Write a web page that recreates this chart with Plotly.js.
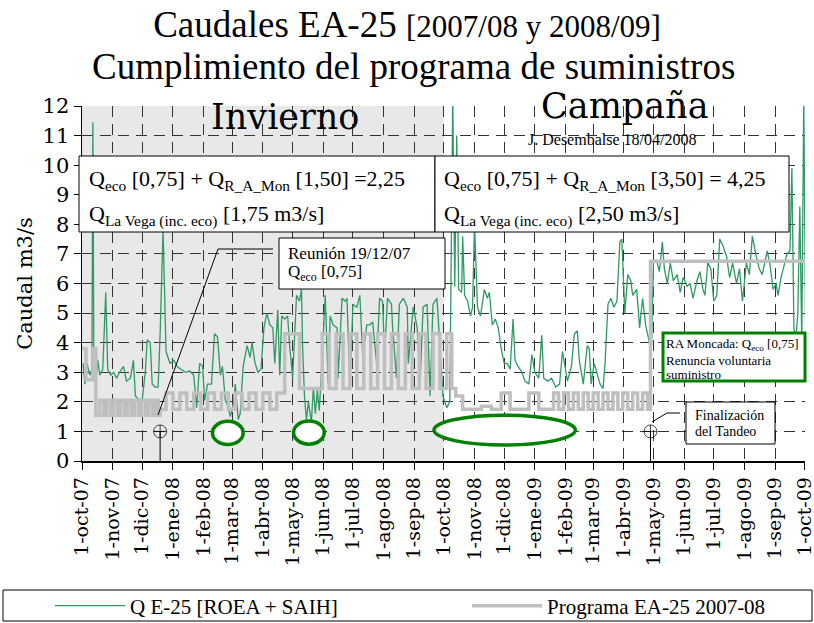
<!DOCTYPE html>
<html>
<head>
<meta charset="utf-8">
<script src="https://cdn.plot.ly/plotly-3.0.1.min.js"></script>
<style>html,body{margin:0;padding:0;background:#fff;}#chart{width:814px;height:623px;}</style>
</head>
<body>
<div id="chart"></div>
<script>
// ---- data (days counted from 1-oct-2007) ----
const startDate = [2007, 9, 1];

// Q E-25 [ROEA + SAIH] : day offset and flow (m3/s)
const qDays = [1,3,5,8,10,11,12,14,16,18,21,24,26,29,32,35,38,42,45,49,52,54,58,61,64,66,69,71,74,77,79,82,85,89,93,96,100,105,109,113,116,119,122,124,127,131,134,137,140,142,145,148,150,153,155,158,160,163,167,170,172,175,178,181,184,187,190,193,195,198,200,202,205,208,210,213,217,220,222,223,225,227,229,232,234,236,238,240,243,246,249,251,254,258,259,263,266,268,271,274,278,281,284,288,291,294,298,301,304,306,309,313,314,318,321,325,329,330,335,339,342,345,349,352,355,359,362,365,369,372,375,377,379,381,384,385,387,390,393,395,397,400,403,407,410,412,415,418,421,424,427,430,433,436,438,441,445,448,452,455,458,462,465,467,471,475,479,483,486,489,491,495,498,501,503,507,511,513,515,518,521,524,527,529,532,535,538,541,544,546,549,552,555,557,561,564,567,570,572,574,576,578,581,584,587,589,592,595,598,602,605,608,612,615,618,622,625,628,630,633,636,639,642,645,648,652,655,658,662,665,668,672,675,678,682,685,688,693,696,699,702,704,707,710,713,716,718,720,722,724,726,728,730,732];
const qValues = [3.3,2.6,3.3,2.9,3.1,11.45,3.2,2.7,3.4,2.9,3.1,5.7,3.1,2.9,3.0,2.8,3.0,3.2,2.7,2.8,3.4,2.2,2.05,2.1,3.0,4.1,4.0,2.6,2.5,2.5,4.3,7.8,3.7,3.3,3.4,3.2,3.1,3.0,3.05,2.9,1.8,3.3,3.2,2.05,2.6,2.6,4.3,4.2,2.9,3.2,2.05,1.8,1.5,1.9,2.6,1.4,1.6,3.2,3.9,3.5,4.0,3.3,3.0,3.1,4.5,5.0,4.6,4.5,3.3,5.1,2.9,4.9,4.8,4.9,3.9,2.8,5.6,5.4,5.8,4.0,2.2,1.4,2.0,1.3,2.5,1.6,2.4,1.7,3.6,5.6,2.6,4.9,4.6,4.5,2.8,5.5,5.4,5.5,2.5,5.3,5.2,5.6,3.5,4.6,4.6,4.7,3.3,5.5,5.4,3.6,5.5,5.3,4.6,2.8,5.3,5.5,5.2,3.3,5.2,4.5,2.7,5.2,5.3,2.2,5.3,5.5,3.9,2.2,1.8,2.0,12.3,5.9,11.0,5.8,5.7,7.6,5.6,5.4,4.9,5.2,8.0,5.2,4.9,5.8,5.5,5.7,4.6,4.8,4.5,3.8,3.3,3.3,3.1,4.8,3.4,3.2,3.0,2.7,2.6,3.6,3.0,2.8,4.25,2.8,2.7,2.8,2.5,2.6,3.7,3.0,2.7,3.2,4.3,4.4,3.4,2.6,3.9,3.8,2.6,3.3,2.9,2.6,2.45,3.3,5.3,5.5,5.2,5.4,7.4,7.5,5.0,6.3,6.1,5.6,5.8,4.5,5.5,4.6,4.3,4.0,3.9,6.7,6.8,6.4,7.4,6.5,6.0,6.7,6.1,6.3,5.7,6.2,5.9,6.0,5.5,6.1,6.4,5.8,5.6,6.7,6.5,5.4,5.6,7.5,7.3,6.9,6.2,6.7,6.0,6.5,5.4,6.7,6.3,7.6,6.9,6.5,6.3,7.1,6.6,5.8,6.0,5.6,6.2,6.6,7.0,7.1,9.9,4.5,4.1,5.0,8.6,4.0,12.3,3.9];

// Programa EA-25 2007-08 : step change days and programmed flow
const progDays = [0,4,11,14,18,22,25,29,32,36,39,43,46,50,53,57,60,64,67,71,74,77,79,85,92,99,106,113,120,127,134,141,148,155,162,169,176,183,190,197,205,220,243,250,257,264,271,278,285,292,299,306,313,320,327,334,341,348,355,362,369,374,378,385,404,414,424,433,452,462,477,482,487,492,497,502,507,512,517,522,527,532,537,542,547,552,557,562,567,572,575,731];
const progValues = [3.8,2.75,3.8,1.55,2.05,1.55,2.05,1.55,2.05,1.55,2.05,1.55,2.05,1.55,2.05,1.55,2.05,1.55,2.05,1.55,2.05,1.55,1.75,2.3,1.75,2.3,1.75,2.3,1.75,2.3,1.75,2.3,1.75,2.3,1.75,2.3,1.75,2.3,1.75,2.3,4.3,2.45,4.3,2.45,4.3,2.45,4.3,2.45,4.3,2.45,4.3,2.45,4.3,2.45,4.3,2.45,4.3,2.45,4.3,2.45,4.3,2.45,2.2,1.75,1.85,1.75,2.3,1.75,2.3,1.75,2.3,1.75,2.3,1.75,2.3,1.75,2.3,1.75,2.3,1.75,2.3,1.75,2.3,1.75,2.3,1.75,2.3,1.75,2.3,1.75,6.75,6.75];

// events (Reunión 19/12/07, Finalización del Tandeo)
const eventDates = ['2007-12-19', '2009-04-28'];
const eventLevel = [1, 1];

// x ticks
const tickDates = ['2007-10-01','2007-11-01','2007-12-01','2008-01-01','2008-02-01','2008-03-01','2008-04-01','2008-05-01','2008-06-01','2008-07-01','2008-08-01','2008-09-01','2008-10-01','2008-11-01','2008-12-01','2009-01-01','2009-02-01','2009-03-01','2009-04-01','2009-05-01','2009-06-01','2009-07-01','2009-08-01','2009-09-01','2009-10-01'];
const tickLabels = ['1-oct-07','1-nov-07','1-dic-07','1-ene-08','1-feb-08','1-mar-08','1-abr-08','1-may-08','1-jun-08','1-jul-08','1-ago-08','1-sep-08','1-oct-08','1-nov-08','1-dic-08','1-ene-09','1-feb-09','1-mar-09','1-abr-09','1-may-09','1-jun-09','1-jul-09','1-ago-09','1-sep-09','1-oct-09'];

// ---- build ----
function dayToDate(d) {
  const t = Date.UTC(startDate[0], startDate[1], startDate[2]) + d * 86400000;
  return new Date(t).toISOString().slice(0, 10);
}
const serif = 'Liberation Serif, Times New Roman, serif';
const wide = 'DejaVu Serif, serif';

const traces = [
  {
    x: qDays.map(dayToDate), y: qValues, type: 'scatter', mode: 'lines',
    name: 'Q E-25 [ROEA + SAIH]', legend: 'legend',
    line: {color: '#2f9a62', width: 1.3}
  },
  {
    x: progDays.map(dayToDate), y: progValues, type: 'scatter', mode: 'lines',
    name: 'Programa EA-25 2007-08', legend: 'legend2',
    line: {color: '#bfbfbf', width: 3.5, shape: 'hv'}
  }
];
eventDates.forEach(function (d, i) {
  traces.push({
    x: [d, d], y: [0, eventLevel[i]], type: 'scatter', mode: 'lines+markers',
    showlegend: false, hoverinfo: 'skip',
    line: {color: '#000', width: 1},
    marker: {symbol: 'circle-cross-open', size: [0, 13], color: '#000', line: {width: 1, color: '#000'}}
  });
});

function px(x) { return (x - 82) / 723; }
function py(y) { return (461 - y) / 355; }

const shapes = [
  // Invierno shading
  {type: 'rect', xref: 'x', yref: 'y', x0: '2007-10-01', x1: '2008-10-01', y0: 0, y1: 12,
   fillcolor: '#e8e8e8', line: {width: 0}, layer: 'below'},
  // ellipses
  {type: 'circle', xref: 'x', yref: 'y', x0: '2008-02-10', x1: '2008-03-12', y0: 0.56, y1: 1.34,
   fillcolor: '#ffffff', line: {color: '#008000', width: 3.5}, layer: 'above'},
  {type: 'circle', xref: 'x', yref: 'y', x0: '2008-05-02', x1: '2008-06-02', y0: 0.57, y1: 1.35,
   fillcolor: '#ffffff', line: {color: '#008000', width: 3.5}, layer: 'above'},
  {type: 'circle', xref: 'x', yref: 'y', x0: '2008-09-21', x1: '2009-02-11', y0: 0.54, y1: 1.55,
   fillcolor: '#ffffff', line: {color: '#008000', width: 3.5}, layer: 'above'},
  // top boxes
  {type: 'rect', xref: 'paper', yref: 'paper', x0: px(79), x1: px(435), y0: py(232), y1: py(156),
   fillcolor: '#fff', line: {color: '#000', width: 1}, layer: 'above'},
  {type: 'rect', xref: 'paper', yref: 'paper', x0: px(435), x1: px(789), y0: py(232), y1: py(156),
   fillcolor: '#fff', line: {color: '#000', width: 1}, layer: 'above'},
  // Reunion box + connector
  {type: 'rect', xref: 'paper', yref: 'paper', x0: px(279), x1: px(445), y0: py(289), y1: py(238),
   fillcolor: '#fff', line: {color: '#000', width: 1}, layer: 'above'},
  {type: 'path', xref: 'paper', yref: 'paper',
   path: 'M' + px(158) + ',' + py(415) + ' L' + px(218) + ',' + py(249) + ' L' + px(273) + ',' + py(249),
   line: {color: '#000', width: 1}, layer: 'above'},
  // RA Moncada box
  {type: 'rect', xref: 'paper', yref: 'paper', x0: px(663), x1: px(805), y0: py(381), y1: py(333),
   fillcolor: '#fff', line: {color: '#008000', width: 3}, layer: 'above'},
  // Finalizacion box + connector
  {type: 'rect', xref: 'paper', yref: 'paper', x0: px(686), x1: px(775), y0: py(444), y1: py(402),
   fillcolor: '#fff', line: {color: '#000', width: 1}, layer: 'above'},
  {type: 'path', xref: 'paper', yref: 'paper',
   path: 'M' + px(652) + ',' + py(422) + ' L' + px(667) + ',' + py(413) + ' L' + px(680) + ',' + py(413),
   line: {color: '#000', width: 1}, layer: 'above'},
  // legend frame
  {type: 'rect', xref: 'paper', yref: 'paper', x0: px(3), x1: px(812), y0: py(621), y1: py(590),
   fillcolor: 'rgba(0,0,0,0)', line: {color: '#000', width: 1}}
];

function ann(text, x, y, size, family, xanchor, color) {
  return {text: text, xref: 'paper', yref: 'paper', x: x, y: y, xanchor: xanchor || 'left',
          yanchor: 'middle', showarrow: false, align: 'left',
          font: {family: family || serif, size: size, color: color || '#000'}};
}
const annotations = [
  ann('Cumplimiento del programa de suministros', px(413), py(67), 37, serif, 'center'),
  ann('Invierno', px(285), py(117), 35, wide, 'center'),
  ann('Campaña', px(625), py(106), 35, wide, 'center'),
  ann('J. Desembalse 18/04/2008', px(612), py(139), 16, serif, 'center'),
  ann('Q<sub>eco</sub> [0,75] + Q<sub>R_A_Mon</sub> [1,50] =2,25', px(87), py(180), 22),
  ann('Q<sub>La Vega (inc. eco)</sub> [1,75 m3/s]', px(87), py(215), 22),
  ann('Q<sub>eco</sub> [0,75] + Q<sub>R_A_Mon</sub> [3,50] = 4,25', px(442), py(180), 22),
  ann('Q<sub>La Vega (inc. eco)</sub> [2,50 m3/s]', px(442), py(215), 22),
  ann('Reunión 19/12/07', px(286), py(253), 17),
  ann('Q<sub>eco</sub> [0,75]', px(286), py(273), 17),
  ann('RA Moncada: Q<sub>eco</sub> [0,75]', px(664), py(344), 13),
  ann('Renuncia voluntaria', px(664), py(360), 13),
  ann('suministro', px(664), py(374), 13),
  ann('Finalización', px(693), py(415), 14),
  ann('del Tandeo', px(693), py(431), 14)
];

const legendBase = {
  orientation: 'h', yanchor: 'middle', xanchor: 'left', xref: 'paper', yref: 'container',
  y: (623 - 606) / 623, font: {family: serif, size: 21, color: '#000'},
  bgcolor: 'rgba(0,0,0,0)', borderwidth: 0, itemwidth: 70
};

const layout = {
  width: 814, height: 623,
  margin: {l: 82, r: 9, t: 106, b: 162, pad: 0},
  paper_bgcolor: '#fff', plot_bgcolor: '#fff',
  font: {family: serif, color: '#000'},
  title: {
    text: 'Caudales EA-25 <span style="font-size:31px">[2007/08 y 2008/09]</span>',
    font: {family: serif, size: 37, color: '#000'},
    x: 0.5, xref: 'container', xanchor: 'center',
    y: 1 - 24 / 623, yref: 'container', yanchor: 'middle'
  },
  xaxis: {
    type: 'date', range: ['2007-10-01', '2009-10-01 06:00'], automargin: false,
    tickmode: 'array', tickvals: tickDates, ticktext: tickLabels, tickangle: -90,
    ticklabeloverflow: 'allow',
    tickfont: {family: wide, size: 19, color: '#000'},
    ticks: 'outside', ticklen: 7, tickcolor: '#000', tickwidth: 1,
    showline: true, linecolor: '#000', linewidth: 1.5,
    showgrid: true, gridcolor: '#333', gridwidth: 1, griddash: '11px,7px',
    zeroline: false, fixedrange: true
  },
  yaxis: {
    range: [0, 12], dtick: 1, tick0: 0, automargin: false,
    tickfont: {family: wide, size: 21, color: '#000'},
    ticks: 'outside', ticklen: 7, tickcolor: '#000', tickwidth: 1,
    showline: true, linecolor: '#000', linewidth: 1.5,
    showgrid: true, gridcolor: '#333', gridwidth: 1, griddash: '11px,7px',
    zeroline: false, fixedrange: true,
    title: {text: 'Caudal m3/s', font: {family: wide, size: 21, color: '#000'}, standoff: 4}
  },
  showlegend: true,
  legend: Object.assign({}, legendBase, {x: px(50)}),
  legend2: Object.assign({}, legendBase, {x: px(467)}),
  shapes: shapes,
  annotations: annotations
};

Plotly.newPlot('chart', traces, layout, {displayModeBar: false, staticPlot: true});
</script>
</body>
</html>
